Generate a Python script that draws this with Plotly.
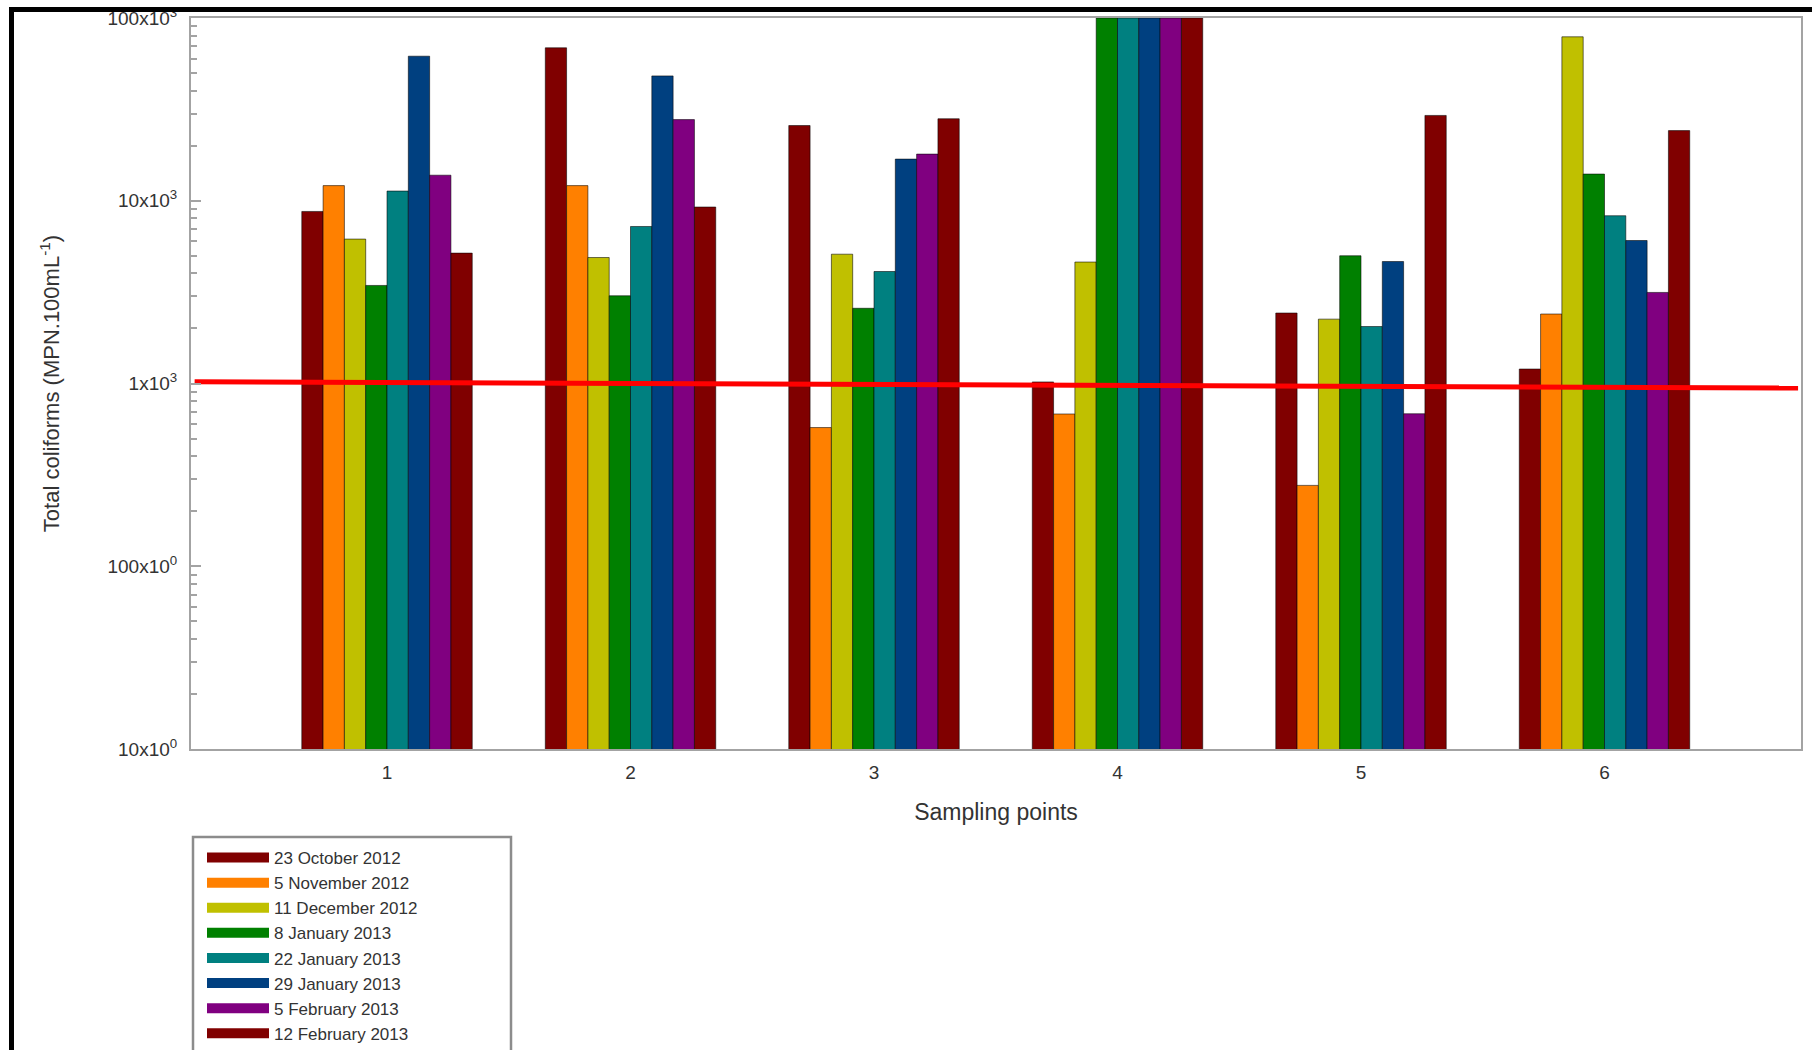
import plotly.graph_objects as go

# Sampling points on the x axis
sampling_points = [1, 2, 3, 4, 5, 6]
point_labels = ["1", "2", "3", "4", "5", "6"]

# Total coliform counts (MPN/100 mL) per sampling date, one value per sampling point
oct23_2012 = [8740, 68700, 25800, 1020, 2430, 1200]
nov5_2012 = [12100, 12100, 574, 681, 277, 2400]
dec11_2012 = [6170, 4890, 5100, 4620, 2250, 78900]
jan8_2013 = [3440, 3020, 2580, 100000, 5000, 14000]
jan22_2013 = [11300, 7230, 4100, 100000, 2050, 8280]
jan29_2013 = [61800, 48200, 16900, 100000, 4650, 6060]
feb5_2013 = [13800, 27800, 18000, 100000, 683, 3150]
feb12_2013 = [5170, 9240, 28100, 100000, 29300, 24200]

series_names = [
    "23 October 2012", "5 November 2012", "11 December 2012", "8 January 2013",
    "22 January 2013", "29 January 2013", "5 February 2013", "12 February 2013",
]
series_values = [oct23_2012, nov5_2012, dec11_2012, jan8_2013,
                 jan22_2013, jan29_2013, feb5_2013, feb12_2013]
series_colors = ["#800000", "#ff8000", "#c0c000", "#008000",
                 "#008080", "#004080", "#800080", "#800000"]

# Hand-drawn 1x10^3 guideline (slightly sloped)
guide_x = [0.21, 6.795]
guide_y = [1023, 945]

# Y axis decades
y_tickvals = [10, 100, 1000, 10000, 100000]
y_ticktext = ["10x10<sup>0</sup>", "100x10<sup>0</sup>", "1x10<sup>3</sup>",
              "10x10<sup>3</sup>", "100x10<sup>3</sup>"]

FONT = "Liberation Sans, Arial, sans-serif"
TEXT = "#333333"
AXIS = "#a3a3a3"

# Plot-area geometry in pixels (used to place paper-referenced decorations)
W, H = 1812, 1050
ML, MR, MT, MB = 191, 11, 18, 301
PW, PH = W - ML - MR, H - MT - MB


def px_x(px):
    return (px - ML) / PW


def px_y(py):
    return (H - MB - py) / PH


fig = go.Figure()

for name, vals, col in zip(series_names, series_values, series_colors):
    fig.add_trace(go.Bar(
        x=sampling_points, y=vals, name=name, legendgroup=name,
        showlegend=False,
        marker=dict(color=col, line=dict(color="rgba(0,0,0,0.55)", width=1)),
    ))

# Wide swatches for the legend
for name, col in zip(series_names, series_colors):
    fig.add_trace(go.Scatter(
        x=[None], y=[None], mode="lines", name=name, legendgroup=name,
        line=dict(color=col, width=16),
    ))

fig.add_trace(go.Scatter(
    x=guide_x, y=guide_y, mode="lines", showlegend=False,
    line=dict(color="#ff0000", width=5), hoverinfo="skip",
))

minor_vals = [m * 10 ** e for e in range(1, 5) for m in range(2, 10)]

fig.update_layout(
    width=W, height=H,
    margin=dict(l=ML, r=MR, t=MT, b=MB, autoexpand=False),
    paper_bgcolor="white", plot_bgcolor="white",
    barmode="group", bargap=0.3, bargroupgap=0,
    font=dict(family=FONT, color=TEXT, size=17),
    showlegend=True,
    legend=dict(
        x=px_x(202), y=px_y(840), xanchor="left", yanchor="top",
        bgcolor="rgba(0,0,0,0)", borderwidth=0,
        font=dict(size=17, color=TEXT, family=FONT),
        itemwidth=62, tracegroupgap=0, traceorder="normal",
    ),
    xaxis=dict(
        range=[0.195, 6.807],
        tickmode="array", tickvals=sampling_points, ticktext=point_labels,
        ticks="", showgrid=False, zeroline=False,
        showline=True, mirror=True, linecolor=AXIS, linewidth=2,
        tickfont=dict(size=19, color=TEXT),
        ticklabelstandoff=5,
        title=dict(text="Sampling points", font=dict(size=23, color=TEXT), standoff=22),
    ),
    yaxis=dict(
        type="log", range=[1, 5],
        tickmode="array", tickvals=y_tickvals, ticktext=y_ticktext,
        ticks="inside", ticklen=10, tickwidth=1.5, tickcolor=AXIS,
        minor=dict(tickmode="array", tickvals=minor_vals, ticks="inside",
                   ticklen=6, tickwidth=1.5, tickcolor=AXIS),
        showgrid=False, zeroline=False,
        showline=True, mirror=True, linecolor=AXIS, linewidth=2,
        tickfont=dict(size=19, color=TEXT),
        ticklabelstandoff=8,
        title=dict(text="Total coliforms (MPN.100mL<sup>-1</sup>)",
                   font=dict(size=22, color=TEXT), standoff=42),
    ),
)

# Legend frame
fig.add_shape(
    type="rect", xref="paper", yref="paper",
    x0=px_x(193), x1=px_x(511), y0=px_y(1080), y1=px_y(837),
    line=dict(color="#8c8c8c", width=2.5), fillcolor="white", layer="below",
)

# Black frame around the figure (top and left edges visible)
fig.add_shape(
    type="rect", xref="paper", yref="paper",
    x0=px_x(11.5), x1=px_x(W + 20), y0=px_y(H + 200), y1=px_y(9.5),
    line=dict(color="black", width=5), fillcolor="rgba(0,0,0,0)", layer="above",
)

fig.write_html("out.html")
